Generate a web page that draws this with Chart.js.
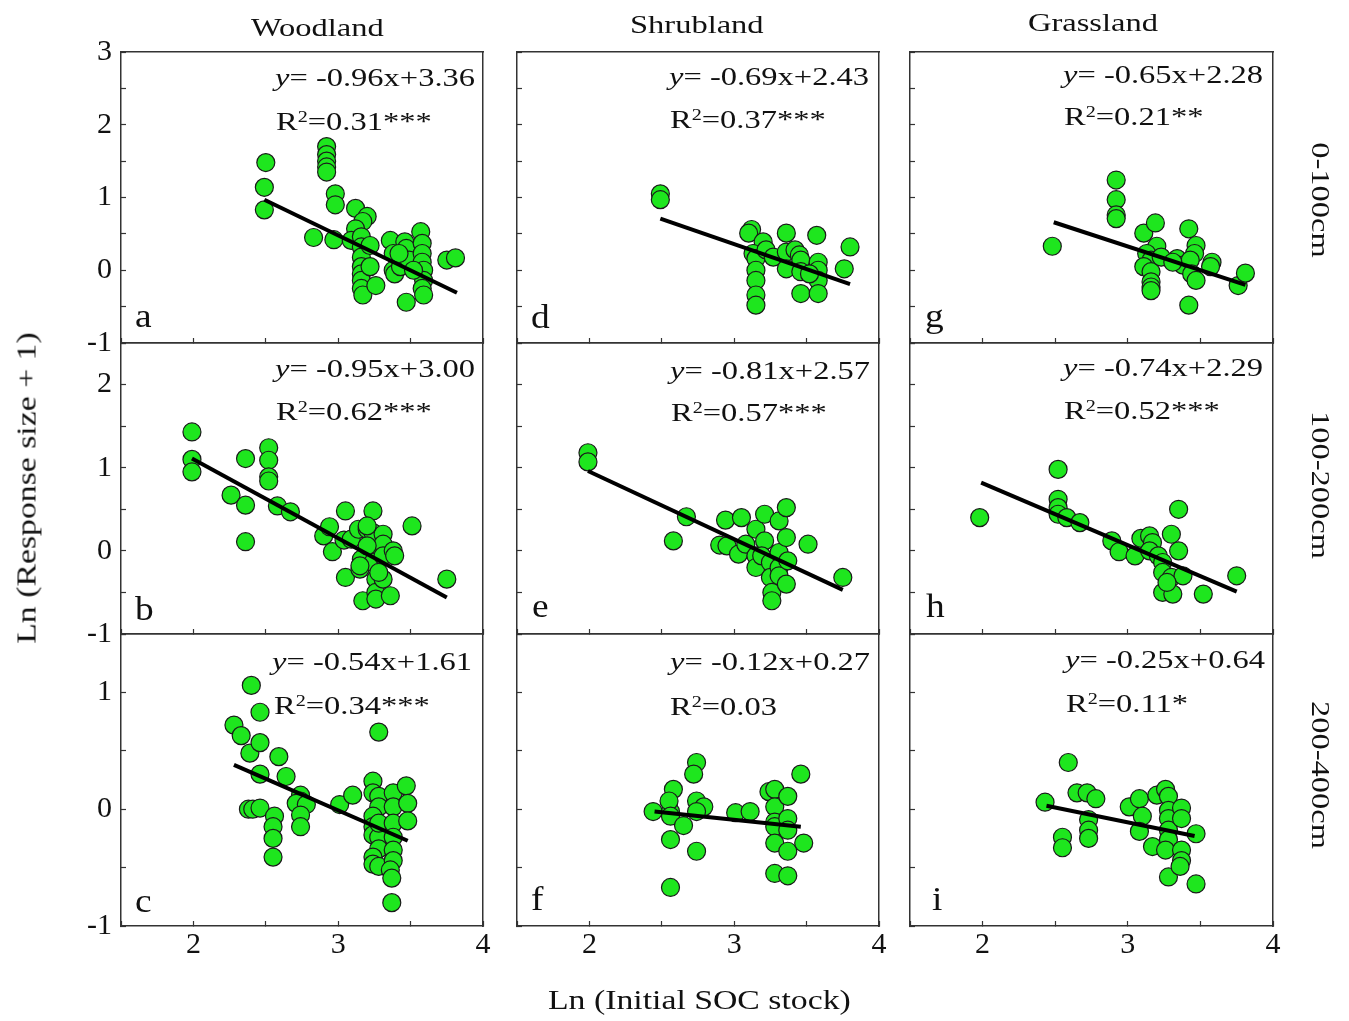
<!DOCTYPE html>
<html><head><meta charset="utf-8">
<script src="https://cdn.jsdelivr.net/npm/chart.js@4.4.1/dist/chart.umd.min.js"></script>
<style>
html,body{margin:0;padding:0;background:#fff;}
#wrap{position:relative;width:1349px;height:1021px;overflow:hidden;background:#fff;font-family:'Liberation Serif','Times New Roman',serif;color:#111;}
canvas{position:absolute;}
.t{position:absolute;white-space:nowrap;line-height:1;transform-origin:0 0;}
.sup{font-size:0.62em;position:relative;top:-0.52em;}
</style></head><body><div id="wrap"></div>
<script>
// ---------- DATA ----------
const columnTitles = ['Woodland', 'Shrubland', 'Grassland'];
const rowTitles = ['0-100cm', '100-200cm', '200-400cm'];
const xTitle = 'Ln (Initial SOC stock)';
const yTitle = 'Ln (Response size + 1)';
const panelLetters = ['a','b','c','d','e','f','g','h','i'];
const xTickLabels = [2, 3, 4];
const rowYMin = [-1, -1, -1];
const rowYMax = [3, 2.5, 1.5];

const aX = [2.50,2.49,2.49,2.92,2.92,2.92,2.92,2.92,2.83,2.98,2.98,2.97,3.12,3.20,3.17,3.12,3.09,3.16,3.16,3.16,3.16,3.16,3.16,3.16,3.17,3.22,3.22,3.26,3.36,3.38,3.38,3.39,3.43,3.46,3.47,3.49,3.47,3.57,3.58,3.58,3.58,3.59,3.59,3.58,3.59,3.75,3.81,3.42,3.52];
const aY = [1.48,1.14,0.83,1.70,1.59,1.50,1.42,1.35,0.45,1.05,0.90,0.42,0.85,0.74,0.67,0.57,0.41,0.46,0.32,0.18,0.05,-0.05,-0.14,-0.25,-0.34,0.34,0.05,-0.21,0.41,0.23,0.00,-0.05,0.05,0.39,0.30,0.14,-0.44,0.53,0.37,0.23,0.11,0.00,-0.14,-0.25,-0.34,0.14,0.17,0.23,0.00];

const bX = [1.99,1.99,1.99,2.36,2.26,2.36,2.36,2.52,2.52,2.52,2.52,2.58,2.67,2.90,2.94,2.96,3.05,3.04,3.09,3.05,3.14,3.16,3.15,3.17,3.20,3.24,3.24,3.24,3.24,3.26,3.26,3.26,3.31,3.31,3.31,3.31,3.36,3.38,3.39,3.51,3.75,3.20,3.28,3.15,3.20];
const bY = [1.43,1.10,0.95,1.11,0.67,0.55,0.11,1.24,1.09,0.89,0.84,0.54,0.47,0.18,0.29,-0.01,0.48,0.13,0.14,-0.32,0.26,-0.10,-0.22,-0.60,0.26,0.48,0.22,0.02,-0.14,-0.34,-0.50,-0.58,0.20,0.08,-0.06,-0.34,-0.54,0.00,-0.06,0.30,-0.34,0.06,-0.26,-0.18,0.30];

const cX = [2.28,2.33,2.39,2.40,2.46,2.46,2.46,2.38,2.41,2.46,2.56,2.55,2.55,2.55,2.59,2.64,2.74,2.74,2.71,2.78,2.74,2.74,3.01,3.10,3.24,3.28,3.24,3.28,3.28,3.24,3.24,3.24,3.28,3.28,3.24,3.24,3.28,3.28,3.38,3.38,3.38,3.38,3.38,3.38,3.36,3.37,3.37,3.47,3.48,3.48];
const cY = [0.72,0.63,0.48,1.06,0.83,0.57,0.30,0.00,0.00,0.01,-0.06,-0.15,-0.25,-0.41,0.45,0.28,0.12,0.07,0.05,0.04,-0.05,-0.15,0.04,0.12,0.24,0.66,0.14,0.11,0.02,-0.06,-0.15,-0.22,-0.24,-0.34,-0.41,-0.47,-0.49,-0.12,0.14,0.02,-0.12,-0.24,-0.35,-0.44,-0.52,-0.59,-0.80,0.20,0.05,-0.10];

const dX = [2.49,2.49,3.12,3.10,3.20,3.13,3.15,3.22,3.27,3.15,3.15,3.15,3.15,3.36,3.36,3.36,3.42,3.45,3.46,3.46,3.46,3.57,3.58,3.58,3.58,3.58,3.76,3.80,3.52];
const dY = [1.05,0.97,0.56,0.51,0.39,0.23,0.16,0.28,0.18,0.00,-0.14,-0.34,-0.48,0.51,0.25,0.02,0.28,0.21,0.14,-0.02,-0.32,0.48,0.11,0.00,-0.14,-0.32,0.02,0.32,-0.05];

const eX = [1.99,1.99,2.67,2.58,2.94,3.05,2.90,2.95,3.03,3.08,3.15,3.15,3.15,3.21,3.21,3.19,3.25,3.25,3.26,3.26,3.31,3.31,3.31,3.31,3.36,3.36,3.37,3.36,3.51,3.75];
const eY = [1.18,1.07,0.41,0.12,0.37,0.40,0.07,0.06,-0.04,0.08,-0.06,-0.20,0.26,0.44,0.12,-0.06,-0.14,-0.32,-0.50,-0.60,0.36,-0.02,-0.20,-0.30,0.52,0.16,-0.12,-0.40,0.08,-0.32];

const fX = [2.44,2.56,2.58,2.55,2.56,2.65,2.56,2.56,2.74,2.72,2.74,2.79,2.74,2.74,3.01,3.11,3.24,3.28,3.28,3.28,3.28,3.28,3.28,3.37,3.37,3.37,3.37,3.37,3.46,3.48];
const fY = [-0.02,-0.02,0.17,0.07,-0.06,-0.14,-0.26,-0.67,0.40,0.30,0.07,0.02,-0.02,-0.36,-0.03,-0.02,0.15,0.17,0.02,-0.11,-0.15,-0.29,-0.55,0.11,-0.08,-0.18,-0.36,-0.57,0.30,-0.29];

const gX = [2.48,2.92,2.92,2.92,2.92,3.11,3.19,3.20,3.13,3.16,3.11,3.16,3.16,3.16,3.16,3.23,3.34,3.38,3.42,3.47,3.46,3.43,3.44,3.47,3.42,3.58,3.57,3.76,3.81,3.31];
const gY = [0.33,1.24,0.97,0.76,0.71,0.51,0.65,0.33,0.23,0.14,0.05,-0.02,-0.16,-0.23,-0.28,0.18,0.16,0.07,0.57,0.34,0.23,0.14,-0.05,-0.14,-0.48,0.11,0.05,-0.21,-0.04,0.11];

const hX = [1.98,2.52,2.52,2.52,2.52,2.58,2.67,2.89,2.94,3.05,3.09,3.15,3.17,3.15,3.21,3.24,3.24,3.24,3.30,3.30,3.31,3.35,3.35,3.38,3.52,3.75,3.27];
const hY = [0.40,0.98,0.62,0.52,0.44,0.40,0.34,0.12,-0.01,-0.06,0.15,0.18,0.10,0.00,-0.06,-0.14,-0.26,-0.50,0.20,-0.32,-0.52,0.50,0.00,-0.30,-0.52,-0.30,-0.38];

const iX = [2.43,2.59,2.55,2.55,2.65,2.72,2.78,2.73,2.73,2.73,3.01,3.08,3.10,3.08,3.17,3.20,3.26,3.28,3.28,3.28,3.28,3.28,3.26,3.28,3.37,3.37,3.37,3.37,3.36,3.47,3.47];
const iY = [0.06,0.40,-0.24,-0.33,0.14,0.14,0.09,-0.09,-0.18,-0.25,0.02,0.09,-0.06,-0.19,-0.32,0.12,0.17,0.11,-0.01,-0.08,-0.18,-0.26,-0.35,-0.58,0.01,-0.08,-0.35,-0.44,-0.49,-0.21,-0.64];

// regression line end points
const fitX = [[2.49,3.82],[1.99,3.75],[2.28,3.48],[2.49,3.80],[1.99,3.75],[2.45,3.46],[2.49,3.81],[1.99,3.75],[2.44,3.46]];
const fitY = [[0.97,-0.31],[1.11,-0.56],[0.38,-0.27],[0.71,-0.19],[0.96,-0.47],[-0.02,-0.15],[0.66,-0.20],[0.82,-0.49],[0.03,-0.23]];

const eqTexts = ['-0.96x+3.36','-0.95x+3.00','-0.54x+1.61','-0.69x+2.43','-0.81x+2.57','-0.12x+0.27','-0.65x+2.28','-0.74x+2.29','-0.25x+0.64'];
const r2Texts = ['0.31***','0.62***','0.34***','0.37***','0.57***','0.03','0.21**','0.52***','0.11*'];

const panelX = [aX,bX,cX,dX,eX,fX,gX,hX,iX];
const panelY = [aY,bY,cY,dY,eY,fY,gY,hY,iY];

// ---------- LAYOUT ----------
const colEdges = [[121,483],[517,879],[910,1273]];
const rowEdges = [[52,343],[343,634],[634,926]];
const eqPos = [[275,87],[275,378],[272,671],[669,86],[670,380],[670,671],[1063,84],[1063,377],[1065,669]];
const r2Pos = [[276,131],[276,421],[274,715],[670,129],[671,422],[670,716],[1064,126],[1064,420],[1066,713]];
const letterPos = [[135,327],[135,620],[135,912],[531,328],[532,617],[531,910],[925,327],[926,617],[932,910]];
const S = 1.25;
const FONT = "'Liberation Serif','Times New Roman',serif";
Chart.defaults.font.family = FONT;

const wrap = document.getElementById('wrap');
function addText(html, left, baseline, size, sx) {
  const d = document.createElement('div');
  d.className = 't';
  d.style.fontSize = size + 'px';
  d.style.left = left + 'px';
  d.style.top = (baseline - 0.8375 * size) + 'px';
  d.style.transform = 'scaleX(' + (sx || S) + ')';
  d.innerHTML = html;
  wrap.appendChild(d);
  return d;
}
function addCentered(html, cx, baseline, size) {
  const d = addText(html, 0, baseline, size);
  const w = d.offsetWidth * S;
  d.style.left = (cx - w / 2) + 'px';
}
function addRotated(html, cx, cy, size, deg) {
  const d = document.createElement('div');
  d.className = 't';
  d.style.fontSize = size + 'px';
  d.style.left = cx + 'px';
  d.style.top = cy + 'px';
  d.style.transformOrigin = '50% 50%';
  d.style.transform = 'translate(-50%,-50%) rotate(' + deg + 'deg) scaleX(' + S + ')';
  d.innerHTML = html;
  wrap.appendChild(d);
}

const ML = 100, MT = 45, MR = 30, MB = 60;

for (let i = 0; i < 9; i++) {
  const c = Math.floor(i / 3), r = i % 3;
  const [L, R] = colEdges[c];
  const [T, B] = rowEdges[r];
  const W = R - L + ML + MR, H = B - T + MT + MB;
  const cv = document.createElement('canvas');
  cv.width = W; cv.height = H;
  cv.style.left = (L - ML) + 'px'; cv.style.top = (T - MT) + 'px';
  cv.style.width = W + 'px'; cv.style.height = H + 'px';
  wrap.appendChild(cv);

  const pts = panelX[i].map((x, k) => ({x: x, y: panelY[i][k]}));
  const fit = fitX[i].map((x, k) => ({x: x, y: fitY[i][k]}));
  const showX = (r === 2), showY = (c === 0);
  const axisBorder = {display: true, color: '#333', width: 1.5};
  const tickGrid = {drawOnChartArea: false, drawTicks: true, tickLength: -5, tickColor: '#333', tickWidth: 1.2};

  new Chart(cv, {
    type: 'scatter',
    data: {datasets: [
      {type: 'line', data: fit, borderColor: '#000', borderWidth: 4, pointRadius: 0, fill: false, order: 0},
      {type: 'scatter', data: pts, pointRadius: 9, pointBackgroundColor: '#1ee61e', pointBorderColor: '#1a1a1a', pointBorderWidth: 1.2, order: 1}
    ]},
    options: {
      responsive: false, animation: false, devicePixelRatio: 1,
      layout: {padding: 0},
      plugins: {legend: {display: false}, tooltip: {enabled: false}},
      scales: {
        x: {type: 'linear', position: 'bottom', min: 1.5, max: 4,
            ticks: {stepSize: 0.5, autoSkip: false, maxRotation: 0, minRotation: 0, padding: 6,
                    font: {size: 30, family: FONT}, color: '#111',
                    callback: v => (showX && xTickLabels.includes(v)) ? String(v) : ''},
            grid: tickGrid, border: axisBorder,
            afterFit: s => { s.height = MB; }},
        y: {type: 'linear', position: 'left', min: rowYMin[r], max: rowYMax[r],
            ticks: {stepSize: 0.5, autoSkip: false, padding: 14,
                    font: {size: 30, family: FONT}, color: '#111',
                    callback: v => (showY && Number.isInteger(v)) ? String(v) : ''},
            grid: tickGrid, border: axisBorder,
            afterFit: s => { s.width = ML; }},
        x2: {type: 'linear', position: 'top', min: 1.5, max: 4,
             ticks: {display: false}, grid: {display: false, drawTicks: false}, border: axisBorder,
             afterFit: s => { s.height = MT; }},
        y2: {type: 'linear', position: 'right', min: rowYMin[r], max: rowYMax[r],
             ticks: {display: false}, grid: {display: false, drawTicks: false}, border: axisBorder,
             afterFit: s => { s.width = MR; }}
      }
    }
  });

  addText('<i>y</i>= ' + eqTexts[i], eqPos[i][0], eqPos[i][1], 26);
  addText('R<span class="sup">2</span>=' + r2Texts[i], r2Pos[i][0], r2Pos[i][1], 26);
  addText(panelLetters[i], letterPos[i][0], letterPos[i][1], 34, 1.1);
}

// titles
addCentered(columnTitles[0], 317, 37, 26);
addCentered(columnTitles[1], 697, 34, 26);
addCentered(columnTitles[2], 1093, 32, 26);
addCentered(xTitle, 699, 1010, 27);
addRotated(yTitle, 27, 488, 27, -90);
addRotated(rowTitles[0], 1320, 200, 26, 90);
addRotated(rowTitles[1], 1320, 485, 26, 90);
addRotated(rowTitles[2], 1320, 775, 26, 90);
</script></body></html>
